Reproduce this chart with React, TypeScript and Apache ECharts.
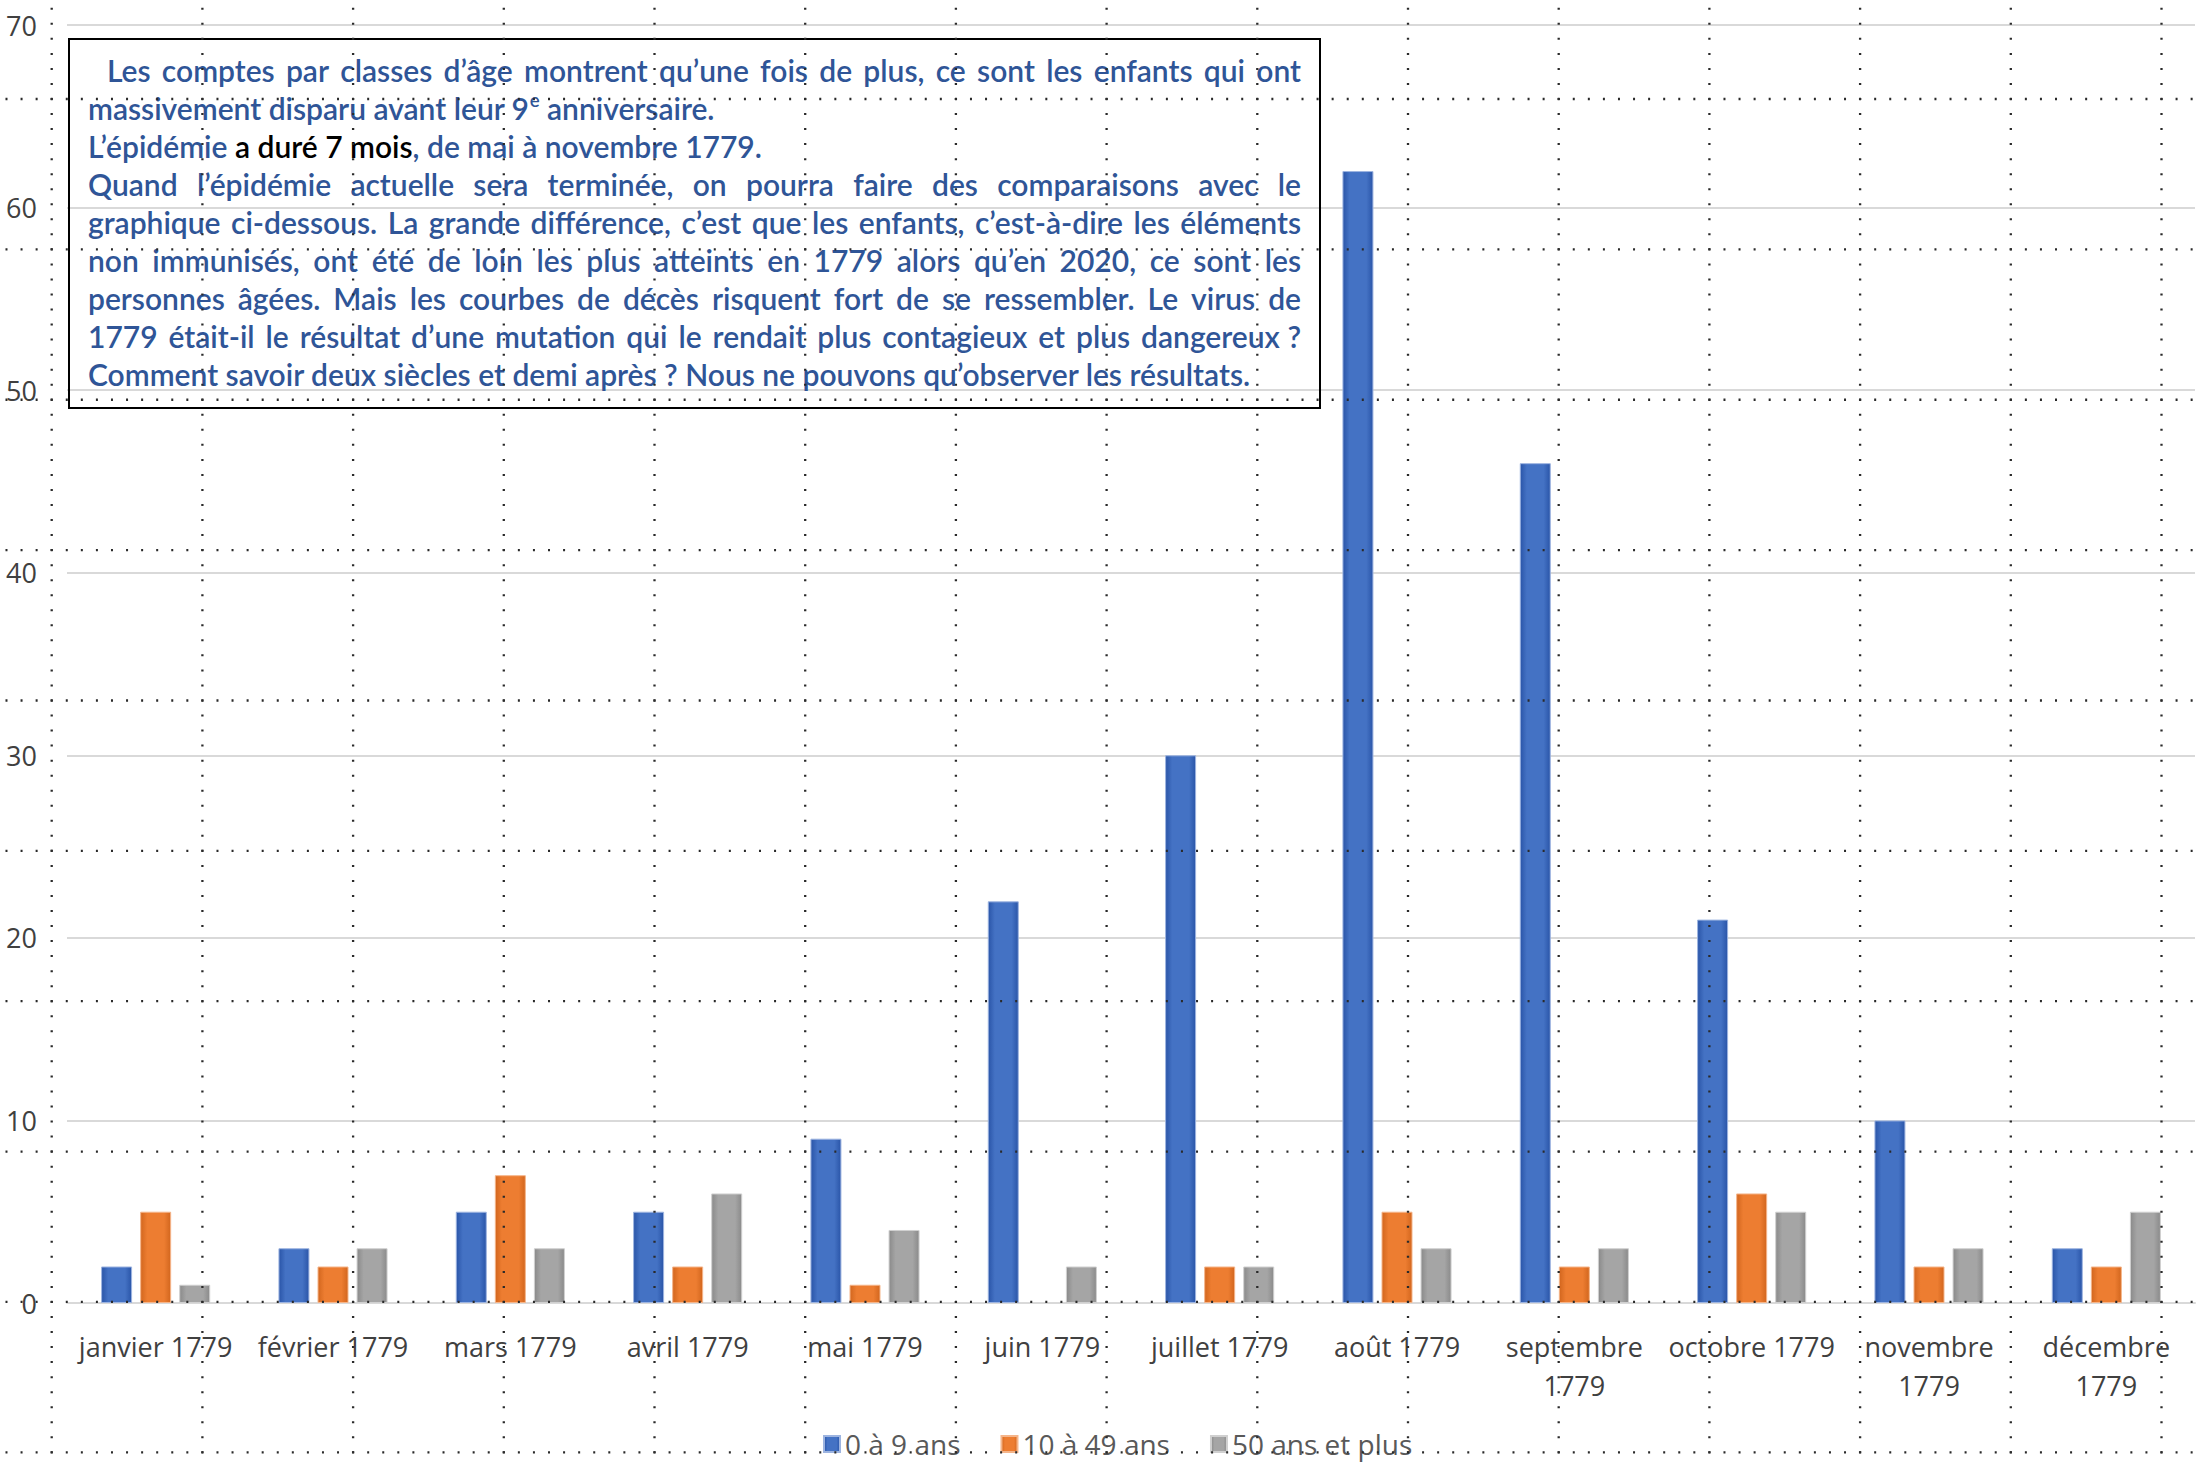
import React, { useEffect, useRef } from "react";
import * as echarts from "echarts";

// Monthly burial counts by age group, 1779
const months = [
  "janvier 1779", "février 1779", "mars 1779", "avril 1779", "mai 1779", "juin 1779",
  "juillet 1779", "août 1779", "septembre 1779", "octobre 1779", "novembre 1779", "décembre 1779",
];
const groupNames = ["0 à 9 ans", "10 à 49 ans", "50 ans et plus"];
const enfants = [2, 3, 5, 5, 9, 22, 30, 62, 46, 21, 10, 3];
const adultes = [5, 2, 7, 2, 1, 0, 2, 5, 2, 6, 2, 2];
const aines = [1, 3, 3, 6, 4, 2, 2, 3, 3, 5, 3, 5];
const yMin = 0;
const yMax = 70;
const yStep = 10;

// Commentary block: each line is a list of runs
type Run = { t: string; c?: "blue" | "black"; sup?: boolean };
const noteLines: Run[][] = [
  [{ t: "Les comptes par classes d’âge montrent qu’une fois de plus, ce sont les enfants qui ont" }],
  [{ t: "massivement disparu avant leur 9" }, { t: "e", sup: true }, { t: " anniversaire." }],
  [{ t: "L’épidémie " }, { t: "a duré 7 mois", c: "black" }, { t: ", de mai à novembre 1779." }],
  [{ t: "Quand l’épidémie actuelle sera terminée, on pourra faire des comparaisons avec le" }],
  [{ t: "graphique ci-dessous. La grande différence, c’est que les enfants, c’est-à-dire les éléments" }],
  [{ t: "non immunisés, ont été de loin les plus atteints en 1779 alors qu’en 2020, ce sont les" }],
  [{ t: "personnes âgées. Mais les courbes de décès risquent fort de se ressembler. Le virus de" }],
  [{ t: "1779 était-il le résultat d’une mutation qui le rendait plus contagieux et plus dangereux\u00a0?" }],
  [{ t: "Comment savoir deux siècles et demi après\u00a0? Nous ne pouvons qu’observer les résultats." }],
];
const justifiedLines = [0, 3, 4, 5, 6, 7];
const indentedLines = [0];

const NOTE_FONT = "Lato";
const NOTE_WEIGHT = 600;
const NOTE_BLUE = "#2F5597";
const AXIS_FONT = "Open Sans";

function buildNote(): any[] {
  const ctx = document.createElement("canvas").getContext("2d") as CanvasRenderingContext2D;
  const measure = (s: string, size: number) => {
    ctx.font = `${NOTE_WEIGHT} ${size}px ${NOTE_FONT}`;
    return ctx.measureText(s).width;
  };
  const box = { x: 69, y: 39, w: 1251, h: 369 };
  const left = 88;
  const right = 1301;
  const indent = 19;
  const lineTop = 70;
  const lineStep = 38;

  // fit the font so the final free line spans the usual width
  const lastText = noteLines[noteLines.length - 1].map((r) => r.t).join("");
  let size = (28 * 1192) / measure(lastText, 28);
  for (const i of justifiedLines) {
    const txt = noteLines[i].map((r) => r.t).join("");
    const avail = right - left - (indentedLines.includes(i) ? indent : 0);
    const w = measure(txt, size);
    if (w > avail) size = (size * avail) / w;
  }
  size = Math.min(size, 30);

  const els: any[] = [
    {
      type: "rect",
      shape: { x: box.x, y: box.y, width: box.w, height: box.h },
      style: { fill: "transparent", stroke: "#000", lineWidth: 2 },
      z: 50,
      silent: true,
    },
  ];
  const textEl = (t: string, x: number, y: number, fill: string, fs: number) => ({
    type: "text",
    x,
    y,
    z: 60,
    silent: true,
    style: {
      text: t,
      fill,
      fontSize: fs,
      fontFamily: NOTE_FONT,
      fontWeight: NOTE_WEIGHT,
      align: "left",
      verticalAlign: "middle",
    },
  });

  noteLines.forEach((runs, i) => {
    const y = lineTop + lineStep * i;
    const x0 = left + (indentedLines.includes(i) ? indent : 0);
    if (justifiedLines.includes(i)) {
      const words = runs.map((r) => r.t).join("").split(" ");
      const widths = words.map((w) => measure(w, size));
      const total = widths.reduce((a, b) => a + b, 0);
      const gap = (right - x0 - total) / (words.length - 1);
      let x = x0;
      words.forEach((w, k) => {
        els.push(textEl(w, x, y, NOTE_BLUE, size));
        x += widths[k] + gap;
      });
    } else {
      let x = x0;
      runs.forEach((r) => {
        const fill = r.c === "black" ? "#000" : NOTE_BLUE;
        if (r.sup) {
          const fs = size * 0.62;
          els.push(textEl(r.t, x, y - size * 0.28, fill, fs));
          x += measure(r.t, fs);
        } else {
          els.push(textEl(r.t, x, y, fill, size));
          x += measure(r.t, size);
        }
      });
    }
  });
  return els;
}

// Dotted page grid laid over the whole picture
function buildDotGrid(): any[] {
  const els: any[] = [];
  const colX0 = 51.7;
  const colStep = 150.7;
  const rowY0 = 99;
  const rowStep = 150.37;
  const dot = 2;
  const dotStyle = (period: number) => ({
    stroke: "#2a2a2a",
    lineWidth: 2.3,
    lineDash: [dot, period - dot],
  });
  for (let k = 0; k < 15; k++) {
    const x = colX0 + colStep * k;
    const start = rowY0 - (rowStep / 10) * 7 - dot / 2;
    els.push({
      type: "line",
      silent: true,
      z: 100,
      shape: { x1: x, y1: start, x2: x, y2: 1470 },
      style: dotStyle(rowStep / 10),
    });
  }
  for (let j = 0; j < 10; j++) {
    const y = rowY0 + rowStep * j;
    const start = colX0 - (colStep / 10) * 4 - dot / 2;
    els.push({
      type: "line",
      silent: true,
      z: 100,
      shape: { x1: start, y1: y, x2: 2210, y2: y },
      style: dotStyle(colStep / 10),
    });
  }
  return els;
}

const barFill = (edge: string, mid: string) =>
  new echarts.graphic.LinearGradient(0, 0, 1, 0, [
    { offset: 0, color: edge },
    { offset: 0.22, color: mid },
    { offset: 0.78, color: mid },
    { offset: 1, color: edge },
  ]);

export default function App() {
  const ref = useRef<HTMLDivElement>(null);

  useEffect(() => {
    if (!ref.current) return;
    const chart = echarts.init(ref.current, null, { renderer: "svg" });

    const palette = [
      { edge: "#2A55A8", mid: "#4472C4", border: "#9DB4E0" },
      { edge: "#D2661E", mid: "#ED7D31", border: "#F5B58A" },
      { edge: "#8A8A8A", mid: "#A5A5A5", border: "#D0D0D0" },
    ];
    const values = [enfants, adultes, aines];

    chart.setOption({
      animation: false,
      backgroundColor: "#ffffff",
      grid: { left: 67, right: 5, top: 25, bottom: 160, containLabel: false },
      legend: {
        data: groupNames,
        left: 818,
        top: 1425,
        icon: "rect",
        itemWidth: 16,
        itemHeight: 16,
        itemGap: 40,
        textStyle: { fontSize: 28, color: "#595959", fontFamily: AXIS_FONT },
      },
      xAxis: {
        type: "category",
        data: months,
        axisTick: { show: false },
        axisLine: { lineStyle: { color: "#D9D9D9", width: 2 } },
        axisLabel: {
          interval: 0,
          margin: 24,
          fontSize: 27,
          lineHeight: 39,
          color: "#404040",
          fontFamily: AXIS_FONT,
          formatter: (v: string) => (v.length >= 13 ? v.replace(" ", "\n") : v),
        },
      },
      yAxis: {
        type: "value",
        min: yMin,
        max: yMax,
        interval: yStep,
        axisLine: { show: false },
        axisTick: { show: false },
        splitLine: { lineStyle: { color: "#D9D9D9", width: 2 } },
        axisLabel: { margin: 30, fontSize: 27, color: "#404040", fontFamily: AXIS_FONT },
      },
      series: groupNames.map((name, i) => ({
        name,
        type: "bar",
        data: values[i].map((v) =>
          v === 0 ? { value: v, itemStyle: { borderWidth: 0 } } : v
        ),
        barWidth: 31,
        barGap: "26%",
        itemStyle: {
          color: barFill(palette[i].edge, palette[i].mid),
          borderColor: palette[i].border,
          borderWidth: 1,
        },
      })),
      graphic: { elements: [...buildNote(), ...buildDotGrid()] },
    });

    return () => chart.dispose();
  }, []);

  return (
    <div
      ref={ref}
      style={{ position: "absolute", left: 0, top: 0, width: 2200, height: 1463 }}
    />
  );
}
